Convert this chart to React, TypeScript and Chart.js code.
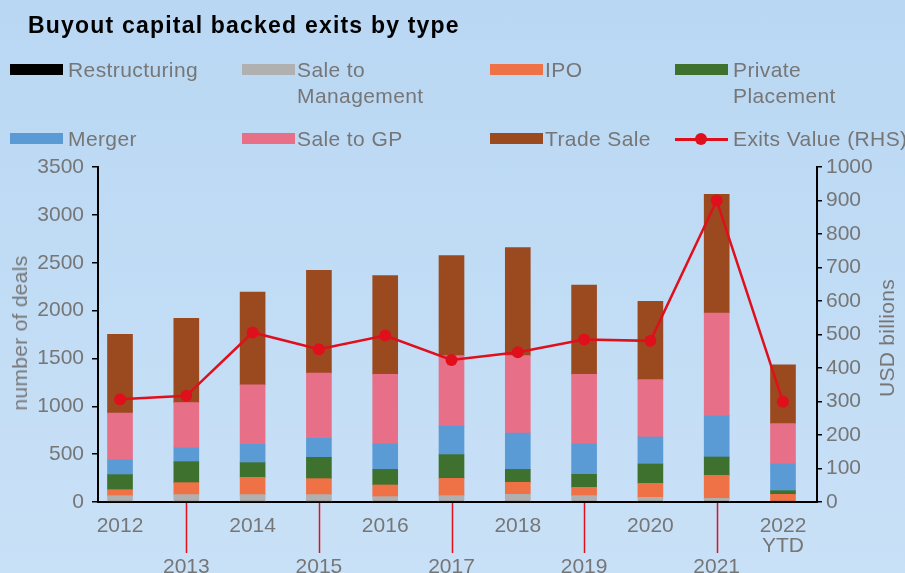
import React, { useEffect, useRef } from "react";
import { Chart, registerables } from "chart.js";

Chart.register(...registerables);

const years = ["2012", "2013", "2014", "2015", "2016", "2017", "2018", "2019", "2020", "2021", "2022 YTD"];
const xTickLabels: string[][] = [
  ["2012"], ["", "", "2013"], ["2014"], ["", "", "2015"], ["2016"], ["", "", "2017"],
  ["2018"], ["", "", "2019"], ["2020"], ["", "", "2021"], ["2022", "YTD"],
];
const leftTicks = [0, 500, 1000, 1500, 2000, 2500, 3000, 3500];
const rightTicks = [0, 100, 200, 300, 400, 500, 600, 700, 800, 900, 1000];

const restructuring = [5, 5, 5, 5, 4, 4, 4, 3, 3, 2, 2];
const saleToManagement = [61, 72, 72, 72, 52, 62, 76, 63, 46, 36, 3];
const ipo = [63, 125, 181, 167, 122, 181, 126, 87, 146, 241, 75];
const privatePlacement = [157, 219, 153, 223, 163, 248, 135, 136, 202, 191, 38];
const merger = [153, 143, 192, 198, 265, 296, 380, 317, 282, 429, 279];
const saleToGP = [491, 474, 620, 683, 728, 738, 808, 728, 599, 1076, 422];
const tradeSale = [822, 881, 971, 1073, 1031, 1045, 1129, 933, 819, 1240, 613];
const exitsValue = [307, 317, 506, 456, 497, 424, 447, 485, 481, 900, 299];

const FONT = "'Liberation Sans', Arial, sans-serif";
const GREY = "#767676";
const RED = "#e00f1c";

const barSeries = [
  { label: "Restructuring", data: restructuring, color: "#000000" },
  { label: "Sale to Management", data: saleToManagement, color: "#b0b0b0" },
  { label: "IPO", data: ipo, color: "#ef7146" },
  { label: "Private Placement", data: privatePlacement, color: "#3e712d" },
  { label: "Merger", data: merger, color: "#5b9bd5" },
  { label: "Sale to GP", data: saleToGP, color: "#e86f88" },
  { label: "Trade Sale", data: tradeSale, color: "#9b4a20" },
];

const legendItems = [
  { lines: ["Restructuring"], color: "#000000", col: 0, row: 0 },
  { lines: ["Sale to", "Management"], color: "#b0b0b0", col: 1, row: 0 },
  { lines: ["IPO"], color: "#ef7146", col: 2, row: 0 },
  { lines: ["Private", "Placement"], color: "#3e712d", col: 3, row: 0 },
  { lines: ["Merger"], color: "#5b9bd5", col: 0, row: 1 },
  { lines: ["Sale to GP"], color: "#e86f88", col: 1, row: 1 },
  { lines: ["Trade Sale"], color: "#9b4a20", col: 2, row: 1 },
  { lines: ["Exits Value (RHS)"], color: RED, col: 3, row: 1, line: true },
];
const colBox = [10, 242, 490, 675];
const colText = [68, 297, 545, 733];
const rowCenter = [70, 139];

export default function App() {
  const ref = useRef<HTMLCanvasElement>(null);

  useEffect(() => {
    document.body.style.margin = "0";
    const leaderLines = {
      id: "leaderLines",
      afterDraw(chart: any) {
        const xs = chart.scales.x;
        const ctx = chart.ctx;
        ctx.save();
        ctx.strokeStyle = RED;
        ctx.lineWidth = 1.5;
        years.forEach((_, i) => {
          if (i % 2 === 1) {
            const px = Math.round(xs.getPixelForValue(i)) + 0.5;
            ctx.beginPath();
            ctx.moveTo(px, chart.chartArea.bottom + 1);
            ctx.lineTo(px, chart.chartArea.bottom + 51);
            ctx.stroke();
          }
        });
        ctx.restore();
      },
    };

    const tickFont = { family: FONT, size: 21 };
    const chart = new Chart(ref.current as HTMLCanvasElement, {
      type: "bar",
      data: {
        datasets: [
          {
            type: "line",
            label: "Exits Value (RHS)",
            data: exitsValue.map((v, i) => ({ x: i, y: v })),
            yAxisID: "y1",
            borderColor: RED,
            backgroundColor: RED,
            borderWidth: 2.5,
            pointRadius: 6,
            pointBackgroundColor: RED,
            pointBorderWidth: 0,
            tension: 0,
            order: 0,
          } as any,
          ...barSeries.map((s) => ({
            type: "bar",
            label: s.label,
            data: s.data.map((v, i) => ({ x: i, y: v })),
            backgroundColor: s.color,
            borderWidth: 0,
            barThickness: 25,
            stack: "deals",
            yAxisID: "y",
            order: 1,
          })),
        ],
      },
      options: {
        animation: false,
        responsive: true,
        maintainAspectRatio: false,
        layout: { padding: { top: 167, left: 0, right: 0, bottom: 0 } },
        plugins: { legend: { display: false }, tooltip: { enabled: false }, title: { display: false } },
        scales: {
          x: {
            type: "linear",
            offset: false,
            min: -0.332,
            max: 10.513,
            stacked: true,
            grid: { display: false, drawTicks: false, offset: false },
            border: { display: true, color: "#000", width: 2 },
            ticks: {
              autoSkip: false,
              maxRotation: 0,
              minRotation: 0,
              padding: 14,
              color: GREY,
              font: { family: FONT, size: 21, lineHeight: 0.97 },
              callback: (v: any) => xTickLabels[Math.round(Number(v))] ?? "",
            },
            afterBuildTicks: (s: any) => {
              s.ticks = years.map((_, i) => ({ value: i }));
            },
            afterFit: (s: any) => {
              s.height = 71;
            },
          },
          y: {
            position: "left",
            stacked: true,
            min: 0,
            max: 3500,
            grid: { drawOnChartArea: false, color: "#000", lineWidth: 1.5, tickLength: 6 },
            border: { color: "#000", width: 2 },
            ticks: { stepSize: 500, padding: 8, color: GREY, font: tickFont, callback: (v: any) => String(v) },
            afterBuildTicks: (s: any) => {
              s.ticks = leftTicks.map((v) => ({ value: v }));
            },
            afterFit: (s: any) => {
              s.width = 98;
            },
          },
          y1: {
            position: "right",
            min: 0,
            max: 1000,
            grid: { drawOnChartArea: false, color: "#000", lineWidth: 1.5, tickLength: 5 },
            border: { color: "#000", width: 2 },
            ticks: { stepSize: 100, padding: 4, color: GREY, font: tickFont, callback: (v: any) => String(v) },
            afterBuildTicks: (s: any) => {
              s.ticks = rightTicks.map((v) => ({ value: v }));
            },
            afterFit: (s: any) => {
              s.width = 88;
            },
          },
        } as any,
      },
      plugins: [leaderLines],
    } as any);
    return () => chart.destroy();
  }, []);

  const textStyle: React.CSSProperties = {
    position: "absolute",
    fontFamily: FONT,
    fontSize: 21,
    color: GREY,
    lineHeight: "26px",
    whiteSpace: "nowrap",
    letterSpacing: 0.4,
  };

  return (
    <div
      style={{
        position: "relative",
        width: 905,
        height: 573,
        overflow: "hidden",
        background: "linear-gradient(180deg, #b9d7f3 0%, #c1dcf5 50%, #c9e1f7 100%)",
      }}
    >
      <canvas ref={ref} style={{ position: "absolute", left: 0, top: 0 }} />
      <div
        style={{
          position: "absolute",
          left: 28,
          top: 12,
          fontFamily: FONT,
          fontWeight: "bold",
          fontSize: 23,
          letterSpacing: 1.2,
          color: "#000",
          whiteSpace: "nowrap",
        }}
      >
        Buyout capital backed exits by type
      </div>
      {legendItems.map((it, k) => {
        const cy = rowCenter[it.row];
        return (
          <React.Fragment key={k}>
            {it.line ? (
              <>
                <div style={{ position: "absolute", left: colBox[it.col], top: cy - 1.5, width: 53, height: 3, background: it.color }} />
                <div style={{ position: "absolute", left: colBox[it.col] + 20, top: cy - 6, width: 12, height: 12, borderRadius: 6, background: it.color }} />
              </>
            ) : (
              <div style={{ position: "absolute", left: colBox[it.col], top: cy - 6, width: 53, height: 11, background: it.color }} />
            )}
            <div style={{ ...textStyle, left: colText[it.col], top: cy - 13 }}>
              {it.lines.map((l, j) => (
                <div key={j}>{l}</div>
              ))}
            </div>
          </React.Fragment>
        );
      })}
      <div
        style={{
          ...textStyle,
          left: 20,
          top: 333,
          transform: "translate(-50%, -50%) rotate(-90deg)",
          letterSpacing: 0.3,
        }}
      >
        number of deals
      </div>
      <div
        style={{
          ...textStyle,
          left: 887,
          top: 338,
          transform: "translate(-50%, -50%) rotate(-90deg)",
          letterSpacing: 0.3,
        }}
      >
        USD billions
      </div>
    </div>
  );
}
